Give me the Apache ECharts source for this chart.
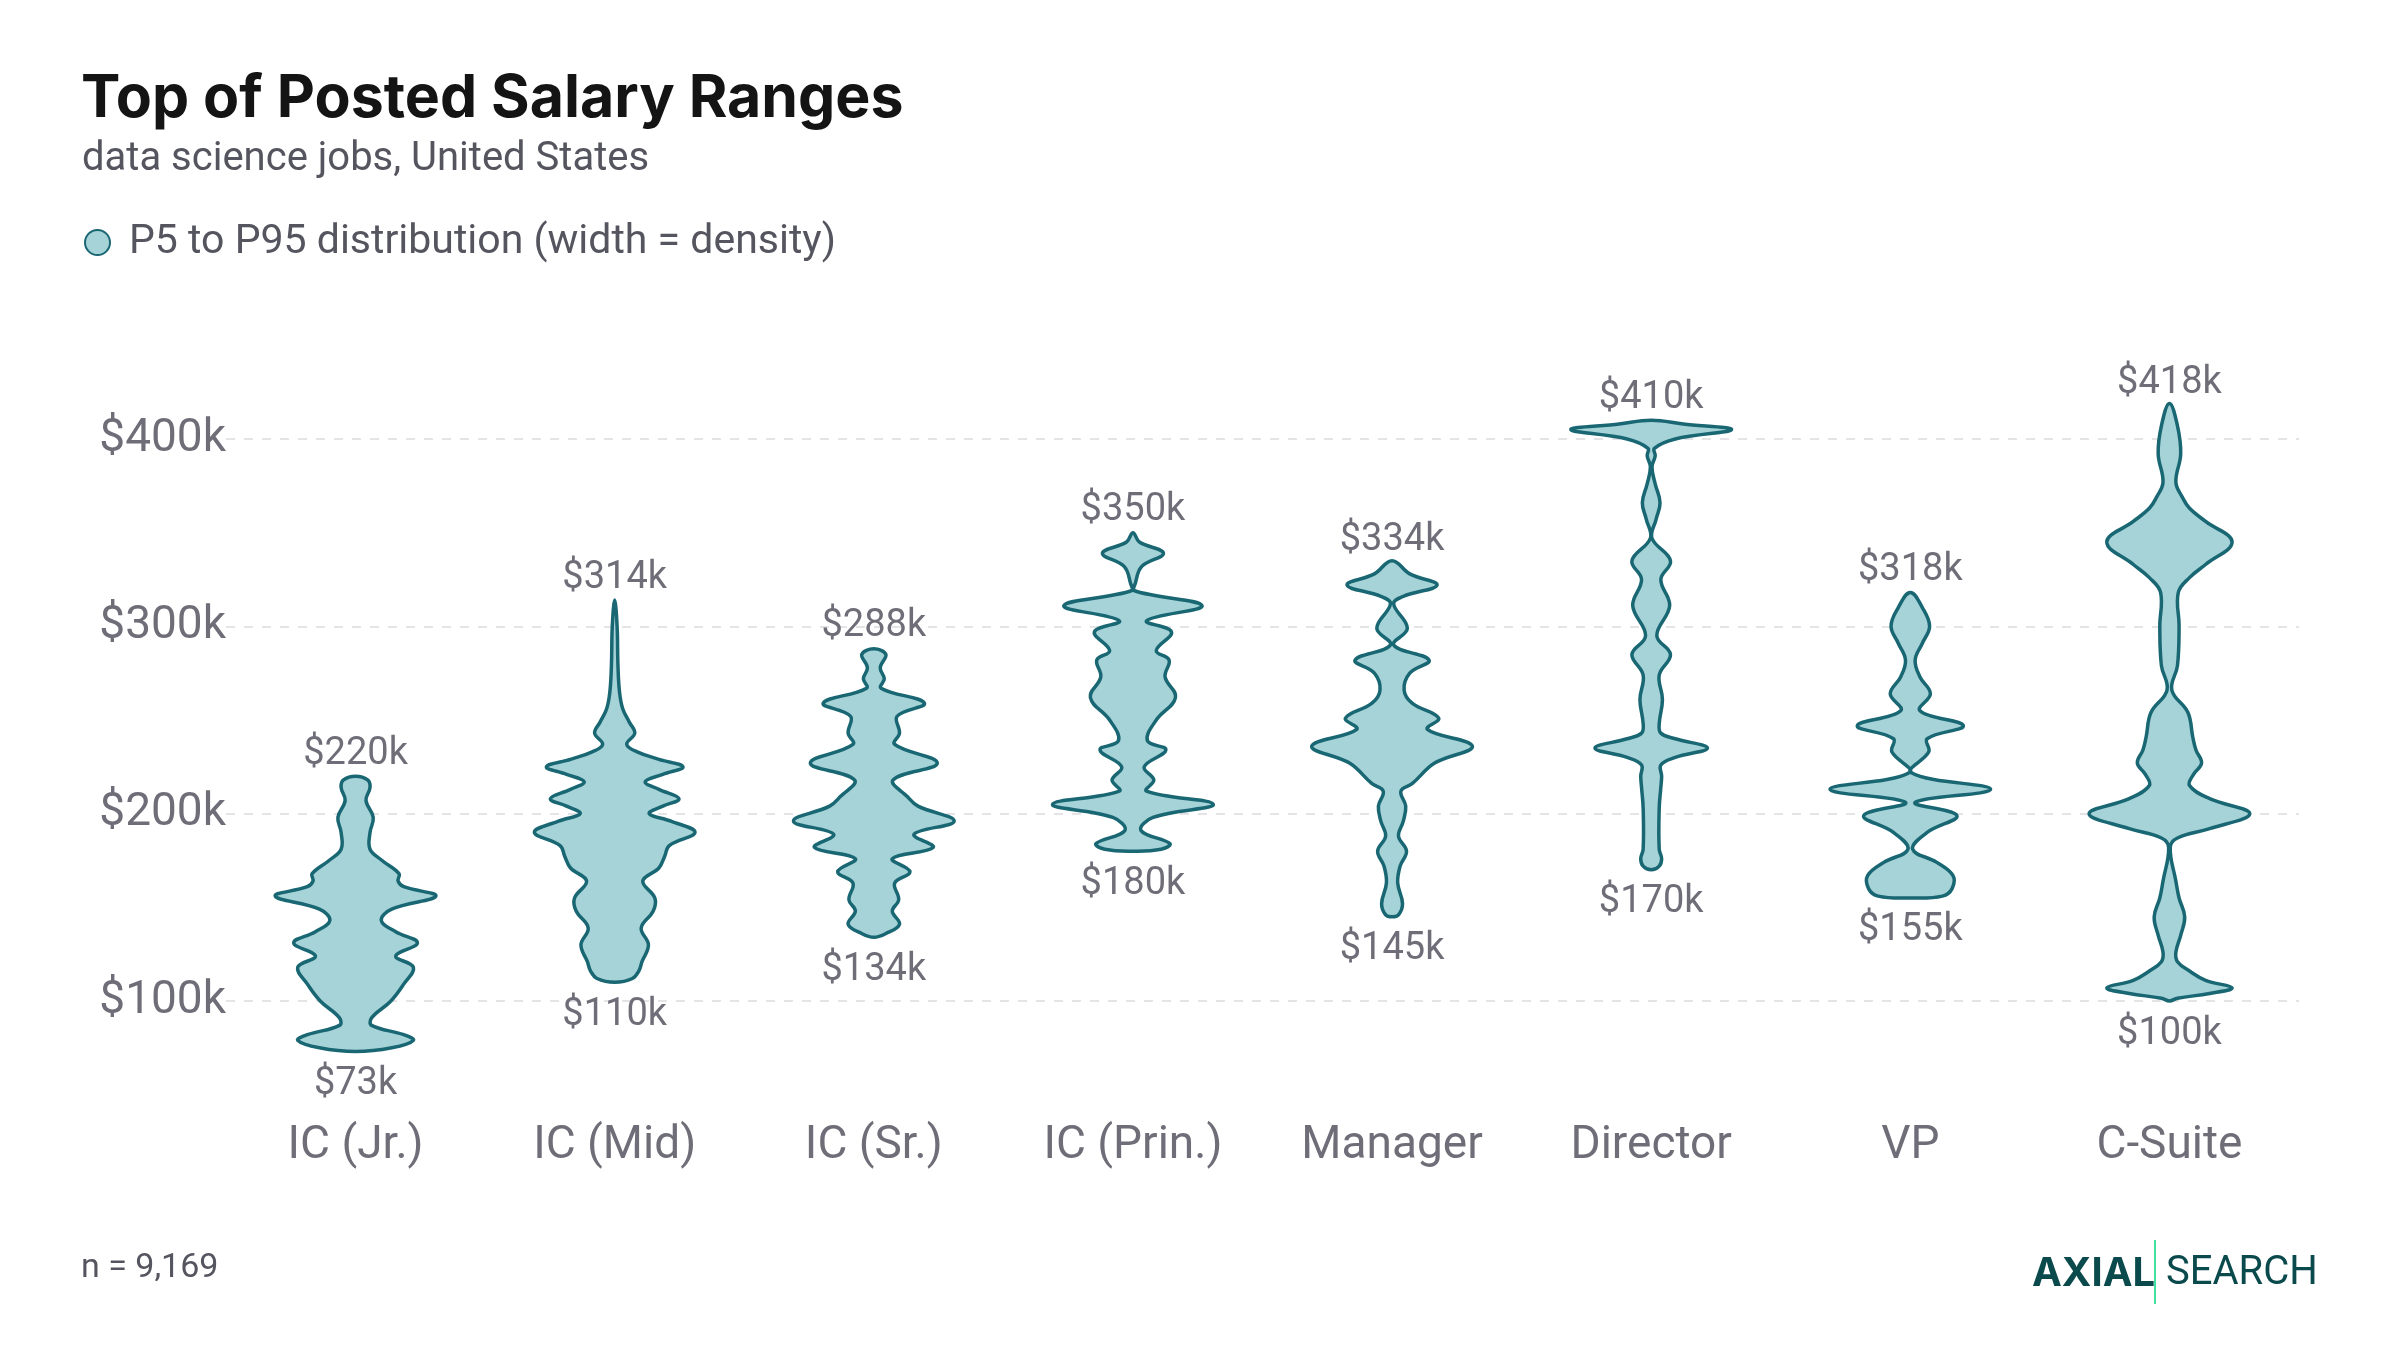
<!DOCTYPE html>
<html>
<head>
<meta charset="utf-8">
<title>Top of Posted Salary Ranges</title>
<script src="https://cdn.jsdelivr.net/npm/echarts@6/dist/echarts.min.js"></script>
<style>
  html, body { margin: 0; padding: 0; background: #fff; }
  #chart { width: 2400px; height: 1350px; }
</style>
</head>
<body>
<div id="chart"></div>
<script>
// categories (x axis)
const categories = ['IC (Jr.)', 'IC (Mid)', 'IC (Sr.)', 'IC (Prin.)', 'Manager', 'Director', 'VP', 'C-Suite'];
// P95 / P5 labels, $k
const p95 = [220, 314, 288, 350, 334, 410, 318, 418];
const p5 = [73, 110, 134, 180, 145, 170, 155, 100];
// y axis ticks, $k
const yTicks = [100, 200, 300, 400];

// density profiles: [salary $k, density 0..1]
const icJr = [[73,0],[75,0.45],[79,0.72],[82,0.6],[87,0.2],[91,0.2],[100,0.44],[109,0.6],[118,0.72],[124,0.5],[131,0.77],[137,0.5],[143,0.32],[149,0.45],[156,1.0],[161,0.6],[164,0.53],[168,0.54],[175,0.33],[181,0.18],[190,0.18],[198,0.22],[207,0.13],[214,0.18],[218,0.15],[220,0]];
const icMid = [[110,0],[112,0.22],[116,0.3],[121,0.34],[130,0.42],[139,0.33],[148,0.48],[155,0.5],[164,0.35],[171,0.55],[177,0.62],[183,0.68],[190,1.0],[196,0.7],[200,0.43],[204,0.6],[208,0.8],[213,0.55],[217,0.38],[221,0.6],[225,0.85],[229,0.55],[233,0.28],[237,0.15],[243,0.25],[249,0.18],[256,0.1],[265,0.06],[280,0.04],[300,0.03],[314,0]];
const icSr = [[134,0],[136,0.15],[141,0.32],[148,0.23],[154,0.31],[163,0.26],[169,0.45],[176,0.23],[182,0.74],[189,0.5],[196,1.0],[204,0.55],[209,0.42],[218,0.24],[227,0.79],[237,0.26],[243,0.32],[252,0.29],[259,0.63],[267,0.09],[272,0.13],[278,0.08],[285,0.15],[288,0]];
const icPrin = [[180,0],[181,0.35],[184,0.46],[191,0.1],[198,0.25],[205,1.0],[212,0.17],[218,0.26],[225,0.14],[234,0.41],[239,0.18],[250,0.29],[262,0.53],[273,0.4],[282,0.45],[287,0.29],[297,0.48],[303,0.17],[311,0.86],[319,0.02],[323,0.03],[332,0.11],[339,0.38],[345,0.08],[350,0]];
const manager = [[145,0],[146,0.08],[152,0.13],[163,0.07],[172,0.1],[180,0.18],[188,0.08],[196,0.14],[204,0.17],[212,0.11],[216,0.25],[227,0.53],[236,1.0],[245,0.44],[251,0.58],[259,0.25],[266,0.15],[275,0.22],[282,0.46],[290,0.02],[299,0.19],[312,0.02],[316,0.14],[322,0.56],[328,0.22],[335,0]];
const director = [[170,0],[172,0.1],[176,0.13],[181,0.1],[203,0.1],[214,0.12],[220,0.13],[226,0.12],[230,0.3],[235,0.7],[240,0.3],[243,0.12],[248,0.1],[261,0.14],[274,0.1],[285,0.24],[295,0.07],[311,0.23],[325,0.12],[335,0.24],[347,0.01],[357,0.06],[366,0.11],[376,0.05],[385,0.01],[391,0.05],[395,0.04],[400,0.3],[405,1.0],[408,0.4],[410,0]];
const vp = [[155,0],[156,0.4],[160,0.52],[167,0.53],[174,0.33],[181,0.03],[190,0.21],[199,0.58],[206,0.06],[213,1.0],[222,0.01],[233,0.23],[240,0.21],[247,0.66],[255,0.12],[264,0.25],[273,0.12],[282,0.06],[291,0.15],[300,0.24],[310,0.15],[318,0]];
const cSuite = [[100,0],[101.5,0.1],[104,0.5],[107,0.78],[111,0.45],[116,0.25],[121,0.1],[126,0.08],[135,0.14],[145,0.19],[155,0.12],[164,0.08],[182,0.01],[187,0.1],[192,0.5],[200,1.0],[208,0.5],[215,0.25],[221,0.3],[227,0.4],[234,0.33],[241,0.29],[254,0.23],[266,0.03],[279,0.1],[300,0.12],[318,0.11],[326,0.25],[333,0.45],[345,0.78],[356,0.45],[363,0.25],[369,0.16],[377,0.08],[392,0.14],[407,0.1],[419,0]];

const profiles = [icJr, icMid, icSr, icPrin, manager, director, vp, cSuite];

const FILL = '#a5d3d8';
const STROKE = '#1a6774';
const GREY = '#6f6e78';
const FONT = 'Roboto, "Noto Sans", sans-serif';

// draw one violin per category
function renderViolin(params, api) {
  const i = api.value(0);
  const prof = profiles[i];
  const band = api.size([1, 0])[0];
  const scale = band * 0.31;
  const right = [];
  const left = [];
  prof.forEach(function (p) {
    const c = api.coord([i, p[0]]);
    right.push([c[0] + p[1] * scale, c[1]]);
    left.push([c[0] - p[1] * scale, c[1]]);
  });
  // right side bottom->top, then left side top->bottom (skip the shared tips)
  const points = right.concat(left.slice(1, -1).reverse());
  const top = api.coord([i, p95[i]]);
  const bottom = api.coord([i, p5[i]]);
  return {
    type: 'group',
    children: [
      {
        type: 'polygon',
        shape: { points: points, smooth: 0.4 },
        style: { fill: FILL, stroke: STROKE, lineWidth: 3.5 }
      },
      {
        type: 'text',
        style: {
          text: '$' + p95[i] + 'k', x: top[0], y: top[1] - 22,
          align: 'center', verticalAlign: 'middle',
          fill: GREY, fontSize: 38, fontFamily: FONT
        }
      },
      {
        type: 'text',
        style: {
          text: '$' + p5[i] + 'k', x: bottom[0], y: bottom[1] + 33,
          align: 'center', verticalAlign: 'middle',
          fill: GREY, fontSize: 38, fontFamily: FONT
        }
      }
    ]
  };
}

const myChart = echarts.init(document.getElementById('chart'));
myChart.setOption({
  backgroundColor: '#fff',
  animation: false,
  title: [
    {
      text: 'Top of Posted Salary Ranges',
      left: 76, top: 65,
      textStyle: { fontSize: 59, fontWeight: 700, color: '#141414', fontFamily: 'Inter, sans-serif' }
    },
    {
      text: 'data science jobs, United States',
      left: 77, top: 135,
      textStyle: { fontSize: 40, fontWeight: 400, color: '#55555f', fontFamily: FONT }
    }
  ],
  legend: {
    left: 79, top: 217,
    icon: 'circle',
    itemWidth: 25, itemHeight: 25, itemGap: 20,
    itemStyle: { color: FILL, borderColor: STROKE, borderWidth: 2 },
    textStyle: { fontSize: 41, color: '#55555f', fontFamily: FONT, padding: [0, 0, 0, 14] },
    data: ['P5 to P95 distribution (width = density)']
  },
  grid: { left: 226, right: 101, top: 439, bottom: 349 },
  xAxis: {
    type: 'category',
    data: categories,
    axisLine: { show: false },
    axisTick: { show: false },
    axisLabel: { margin: 122, fontSize: 46, color: GREY, fontFamily: FONT }
  },
  yAxis: {
    type: 'value',
    min: yTicks[0], max: yTicks[yTicks.length - 1], interval: 100,
    axisLine: { show: false },
    axisTick: { show: false },
    axisLabel: {
      margin: 0, fontSize: 46, color: GREY, fontFamily: FONT,
      formatter: function (v) { return '$' + v + 'k'; }
    },
    splitLine: { lineStyle: { color: '#e4e4e6', width: 2, type: [9, 9] } }
  },
  series: [
    {
      name: 'P5 to P95 distribution (width = density)',
      type: 'custom',
      renderItem: renderViolin,
      itemStyle: { color: FILL, borderColor: STROKE },
      encode: { x: 0 },
      clip: false,
      data: categories.map(function (c, i) { return [i]; })
    }
  ],
  graphic: [
    {
      type: 'text', left: 81, top: 1251,
      style: { text: 'n = 9,169', fontSize: 34, fill: '#55555f', fontFamily: FONT }
    },
    {
      type: 'text', left: 2032, top: 1254,
      style: { text: 'AXIAL', fontSize: 40, fontWeight: 700, fill: '#0b4a4c', fontFamily: 'Inter, sans-serif' }
    },
    {
      type: 'rect', shape: { x: 2154, y: 1240, width: 2, height: 64 },
      style: { fill: '#3fe0a0' }
    },
    {
      type: 'text', left: 2166, top: 1254,
      style: { text: 'SEARCH', fontSize: 40, fill: '#0b4a4c', fontFamily: FONT }
    }
  ]
});
</script>
</body>
</html>
